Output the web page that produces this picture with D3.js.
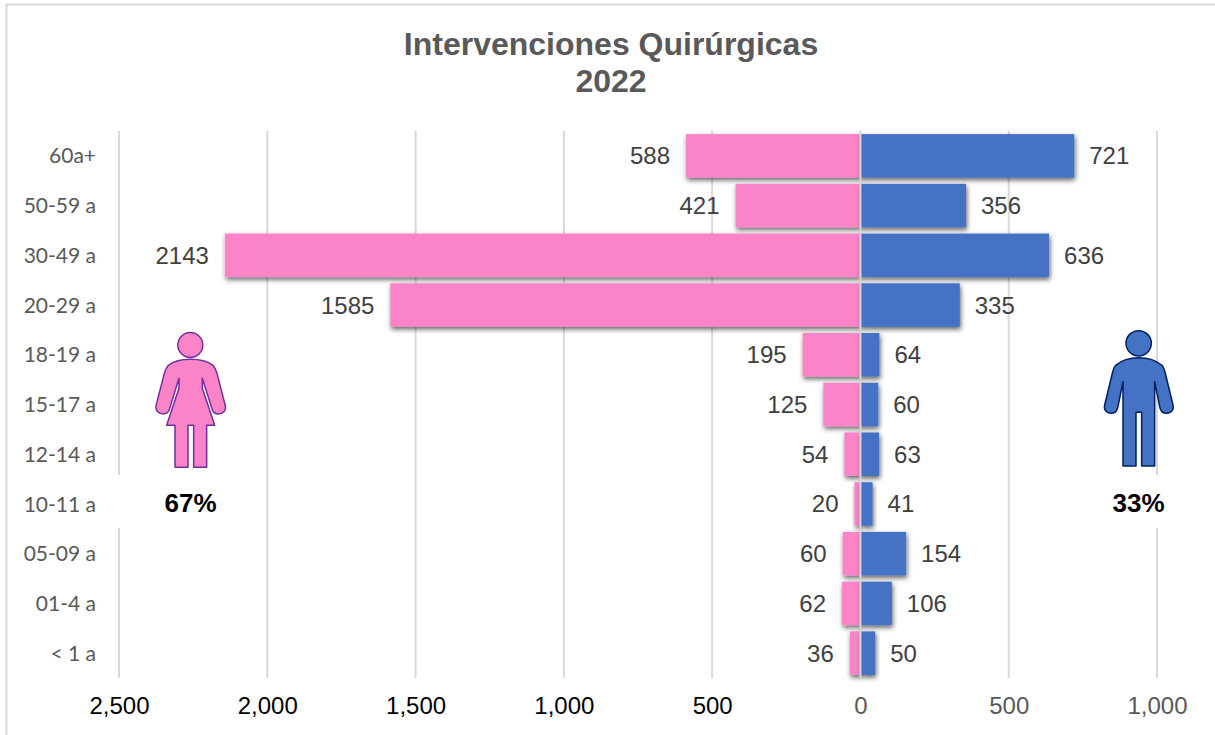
<!DOCTYPE html>
<html><head><meta charset="utf-8">
<script src="https://cdn.jsdelivr.net/npm/d3@7/dist/d3.min.js"></script>
<style>html,body{margin:0;padding:0;background:#fff;overflow:hidden}svg{display:block}</style>
</head><body><svg id="c" width="1215" height="735"></svg>
<script>
const categories = ["60a+","50-59 a","30-49 a","20-29 a","18-19 a","15-17 a","12-14 a","10-11 a","05-09 a","01-4 a","< 1 a"];
const women = [588,421,2143,1585,195,125,54,20,60,62,36];
const men = [721,356,636,335,64,60,63,41,154,106,50];
const xTicks = [-2500,-2000,-1500,-1000,-500,0,500,1000];
const titleLines = ["Intervenciones Quirúrgicas","2022"];
const shares = ["67%","33%"];

const PINK="#FB84C8", BLUE="#4472C4", GRID="#D9D9D9";
const SANS="'Liberation Sans',Arial,sans-serif";
const svg=d3.select("#c");
const x=d3.scaleLinear().domain([-2500,1000]).range([119,1157]);
const y=d3.scaleBand().domain(categories).range([131,678]).paddingInner(0.125).paddingOuter(0.0625);

const f=svg.append("defs").append("filter").attr("id","sh").attr("x","-30%").attr("y","-30%").attr("width","160%").attr("height","160%");
f.append("feDropShadow").attr("dx",1).attr("dy",2.5).attr("stdDeviation",2.6).attr("flood-color","#000").attr("flood-opacity",0.62);

// chart frame
svg.append("path").attr("d","M6.5,735V4.5H1215").attr("fill","none").attr("stroke",GRID).attr("stroke-width",2);

// title
svg.append("g").selectAll("text").data(titleLines).join("text")
  .attr("x",611).attr("y",(d,i)=>55+i*37)
  .attr("text-anchor","middle").attr("font-family",SANS).attr("font-weight","bold")
  .attr("font-size",32).attr("fill","#595959").text(d=>d);

// grid
svg.append("g").selectAll("line").data(xTicks).join("line")
  .attr("x1",d=>x(d)).attr("x2",d=>x(d)).attr("y1",131).attr("y2",678)
  .attr("stroke",GRID).attr("stroke-width",2);

// bars
const rows=categories.map((c,i)=>({c,w:women[i],m:men[i]}));
svg.append("g").selectAll("rect").data(rows).join("rect")
  .attr("x",d=>x(-d.w)).attr("width",d=>x(0)-x(-d.w))
  .attr("y",d=>y(d.c)).attr("height",y.bandwidth())
  .attr("fill",PINK).attr("filter","url(#sh)");
svg.append("g").selectAll("rect").data(rows).join("rect")
  .attr("x",x(0)).attr("width",d=>x(d.m)-x(0))
  .attr("y",d=>y(d.c)).attr("height",y.bandwidth())
  .attr("fill",BLUE).attr("filter","url(#sh)");
// zero line on top
svg.append("line").attr("x1",x(0)).attr("x2",x(0)).attr("y1",131).attr("y2",678)
  .attr("stroke",GRID).attr("stroke-width",2);

// value labels
const lab=(g,acc,sign,anchor,gap)=>g.selectAll("text").data(rows).join("text")
  .attr("x",d=>x(sign*acc(d))+sign*gap).attr("y",d=>y(d.c)+y.bandwidth()/2+8.5)
  .attr("text-anchor",anchor).attr("font-family",SANS).attr("font-size",24)
  .attr("fill","#404040").text(acc);
lab(svg.append("g"),d=>d.w,-1,"end",16);
lab(svg.append("g"),d=>d.m,1,"start",15);

// category axis
const ya=svg.append("g").attr("transform","translate(96,0)").call(d3.axisLeft(y).tickSize(0).tickPadding(0));
ya.select(".domain").remove();
ya.selectAll("text").attr("font-family","Lato,sans-serif").attr("font-size",21).attr("fill","#595959").attr("dy","0.36em");

// value axis
const xa=svg.append("g").attr("transform","translate(0,680)")
  .call(d3.axisBottom(x).tickValues(xTicks).tickSize(0).tickPadding(0).tickFormat(d=>d3.format(",")(Math.abs(d))));
xa.select(".domain").remove();
xa.selectAll("text").attr("font-family",SANS).attr("font-size",24).attr("y",0).attr("dy",34)
  .attr("fill",d=>d<0?"#000":"#595959");

// white share boxes
svg.append("rect").attr("x",112).attr("y",475).attr("width",110).attr("height",53).attr("fill","#fff");
svg.append("rect").attr("x",1105).attr("y",475).attr("width",70).attr("height",53).attr("fill","#fff");
svg.append("g").selectAll("text").data(shares).join("text")
  .attr("x",(d,i)=>i?1138.5:190.5).attr("y",512)
  .attr("text-anchor","middle").attr("font-family",SANS).attr("font-weight","bold")
  .attr("font-size",26).attr("fill","#000").text(d=>d);

// pictograms
const woman=svg.append("g").attr("transform","translate(130,320) scale(0.3333)")
  .attr("fill",PINK).attr("stroke","#7030A0").attr("stroke-width",4.5).attr("stroke-linejoin","round");
woman.append("circle").attr("cx",181).attr("cy",75).attr("r",37.5);
woman.append("path").attr("d","M181,118C150,118 128,126 115,136C110,142 106,150 103,160L79,253C74,274 88,282 100,282C110,282 116,276 119,266L147,175L147,205L110,316H135V442H174V316H191V442H230V316H254L217,205V175L246,266C249,276 255,282 265,282C277,282 291,274 285,253L261,160C258,150 254,142 249,136C236,126 212,118 181,118Z");

const man=svg.append("g").attr("transform","translate(1080,320) scale(0.3333)")
  .attr("fill",BLUE).attr("stroke","#002060").attr("stroke-width",4.5).attr("stroke-linejoin","round");
man.append("circle").attr("cx",176).attr("cy",70).attr("r",38);
man.append("path").attr("d","M176,113C146,113 122,123 107,136C103,140 100,148 98,156L74,255C70,272 82,280 94,280C104,280 110,274 113,264L129,185V438H168V277H185V438H224V185L240,264C243,274 249,280 259,280C271,280 283,272 279,255L255,156C253,148 250,140 246,136C231,123 206,113 176,113Z");
</script></body></html>
